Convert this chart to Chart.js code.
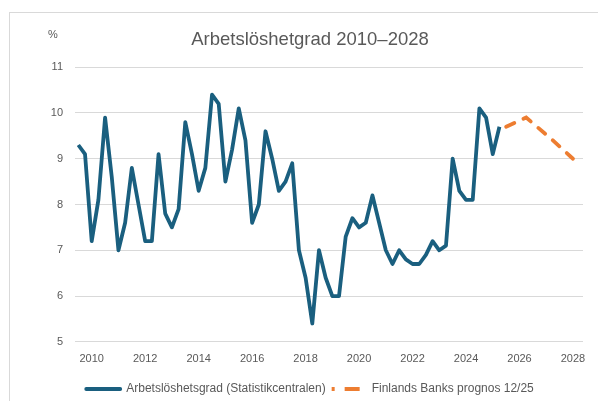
<!DOCTYPE html>
<html>
<head>
<meta charset="utf-8">
<script src="https://cdn.jsdelivr.net/npm/chart.js@4"></script>
<style>
  body { margin: 0; background: #fff; }
  #frame { position: absolute; left: 9px; top: 12px; width: 600px; height: 400px;
           border-left: 1px solid #d9d9d9; border-top: 1px solid #d9d9d9; }
  #wrap { position: absolute; left: 0; top: 0; width: 598px; height: 401px; }
</style>
</head>
<body>
<div id="frame"></div>
<div id="wrap"><canvas id="chart" width="598" height="401"></canvas></div>
<script>
// Quarterly categories 2010Q1 - 2028Q4
const firstYear = 2010;
const lastYear = 2028;
const quarters = [];
for (let y = firstYear; y <= lastYear; y++) {
    for (let q = 1; q <= 4; q++) quarters.push(y + 'Q' + q);
}

// Arbetslöshetsgrad (Statistikcentralen), 2010Q1 - 2025Q4
const unemployment = [
    9.3, 9.1, 7.2, 8.1,   // 2010
    9.9, 8.6, 7.0, 7.6,   // 2011
    8.8, 8.0, 7.2, 7.2,   // 2012
    9.1, 7.8, 7.5, 7.9,   // 2013
    9.8, 9.1, 8.3, 8.8,   // 2014
    10.4, 10.2, 8.5, 9.2, // 2015
    10.1, 9.4, 7.6, 8.0,  // 2016
    9.6, 9.0, 8.3, 8.5,   // 2017
    8.9, 7.0, 6.4, 5.4,   // 2018
    7.0, 6.4, 6.0, 6.0,   // 2019
    7.3, 7.7, 7.5, 7.6,   // 2020
    8.2, 7.6, 7.0, 6.7,   // 2021
    7.0, 6.8, 6.7, 6.7,   // 2022
    6.9, 7.2, 7.0, 7.1,   // 2023
    9.0, 8.3, 8.1, 8.1,   // 2024
    10.1, 9.9, 9.1, 9.7   // 2025
];

// Finlands Banks prognos 12/25
const forecastQuarters = ['2026Q1', '2026Q4', '2027Q4', '2028Q3'];
const forecastValues = [9.7, 9.9, 9.4, 9.0];

// y-axis range
const yMin = 5;
const yMax = 11;

const blue = '#1a5f7f';
const orange = '#ed7d31';
const grey = '#595959';
const font = 'Liberation Sans, Arial, sans-serif';

const labelPlugin = {
    id: 'percentLabel',
    afterDraw(chart) {
        const ctx = chart.ctx;
        ctx.save();
        ctx.fillStyle = grey;
        ctx.font = '11px ' + font;
        ctx.textBaseline = 'middle';
        ctx.fillText('%', 48, 35);
        ctx.restore();
    }
};

new Chart(document.getElementById('chart'), {
    type: 'line',
    data: {
        labels: quarters,
        datasets: [{
            label: 'Arbetslöshetsgrad (Statistikcentralen)',
            data: unemployment,
            borderColor: blue,
            backgroundColor: blue,
            borderWidth: 3.8,
            pointRadius: 0,
            tension: 0,
            borderJoinStyle: 'round'
        }, {
            label: 'Finlands Banks prognos 12/25',
            data: forecastQuarters.map((q, i) => ({ x: q, y: forecastValues[i] })),
            borderColor: orange,
            backgroundColor: orange,
            borderWidth: 3.8,
            borderDash: [9, 10],
            borderCapStyle: 'round',
            pointRadius: 0,
            tension: 0
        }]
    },
    options: {
        responsive: false,
        animation: false,
        layout: { padding: { left: 37, right: 15, top: 12, bottom: -4 } },
        plugins: {
            title: {
                display: true,
                text: 'Arbetslöshetgrad 2010–2028',
                color: grey,
                font: { family: font, size: 18.5, weight: 'normal' },
                padding: { top: 17, bottom: 16 }
            },
            legend: {
                position: 'bottom',
                labels: {
                    color: grey,
                    font: { family: font, size: 12 },
                    boxWidth: 34,
                    boxHeight: 0,
                    padding: 6,
                    generateLabels(chart) {
                        const items = Chart.defaults.plugins.legend.labels.generateLabels(chart);
                        items.forEach(it => {
                            it.lineWidth = 3.8;
                            if (it.datasetIndex === 1) {
                                it.lineDash = [3, 10, 15, 100];
                                it.lineCap = 'butt';
                            }
                        });
                        return items;
                    }
                }
            },
            tooltip: { enabled: false }
        },
        scales: {
            x: {
                offset: true,
                grid: { display: false, drawTicks: false },
                border: { display: false },
                ticks: {
                    autoSkip: false,
                    maxRotation: 0,
                    color: grey,
                    font: { family: font, size: 11 },
                    padding: 11,
                    callback: function (value, index) {
                        const label = quarters[index];
                        const year = parseInt(label, 10);
                        return (label.endsWith('Q3') && year % 2 === 0) ? String(year) : '';
                    }
                }
            },
            y: {
                min: yMin,
                max: yMax,
                afterFit(scale) { scale.width = 38; },
                grid: { color: '#d9d9d9', lineWidth: 1, drawTicks: false },
                border: { display: false },
                ticks: {
                    stepSize: 1,
                    color: grey,
                    font: { family: font, size: 11 },
                    padding: 12
                }
            }
        }
    },
    plugins: [labelPlugin]
});
</script>
</body>
</html>
